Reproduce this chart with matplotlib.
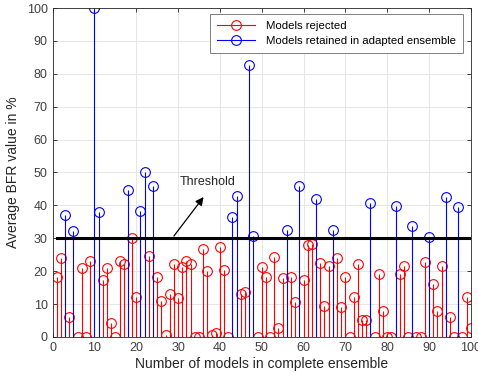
import matplotlib
matplotlib.use("Agg")
import matplotlib.pyplot as plt
from matplotlib.lines import Line2D
from matplotlib.legend_handler import HandlerLine2D
import numpy as np

plt.rcParams['font.family'] = ['Liberation Sans', 'DejaVu Sans']

# Average BFR value per model (models 1..100)
bfr_values = [
    18.3, 24.1, 37.1, 6.0, 32.3, 0.0, 21.1, 0.0, 23.1, 100.0,
    37.9, 17.3, 21.1, 4.3, 0.0, 23.1, 22.2, 44.6, 30.0, 12.1,
    38.4, 50.2, 24.7, 45.8, 18.1, 11.0, 0.6, 12.9, 22.1, 11.8,
    21.3, 23.1, 22.1, 0.0, 0.0, 26.7, 19.9, 0.7, 1.2, 27.4,
    20.4, 0.0, 36.5, 42.9, 13.1, 13.7, 82.7, 30.8, 0.0, 21.3,
    18.3, 0.0, 24.2, 2.6, 17.8, 32.4, 18.1, 10.7, 45.8, 17.2,
    28.0, 28.2, 41.9, 22.5, 9.4, 21.7, 32.6, 23.9, 9.1, 18.1,
    0.0, 12.0, 22.1, 5.2, 5.2, 40.8, 0.0, 19.1, 7.9, 0.0,
    0.0, 39.9, 19.1, 21.6, 0.0, 33.8, 0.0, 0.0, 22.7, 30.5,
    16.0, 7.9, 21.6, 42.6, 6.2, 0.0, 39.4, 0.0, 12.0, 2.7,
]
# models retained in adapted ensemble
retained_models = [3, 5, 10, 11, 18, 21, 22, 24, 43, 44, 47, 48, 56, 59,
                   63, 67, 76, 82, 86, 90, 94, 97]
threshold = 30
x_ticks = [0, 10, 20, 30, 40, 50, 60, 70, 80, 90, 100]
y_ticks = [0, 10, 20, 30, 40, 50, 60, 70, 80, 90, 100]

models = np.arange(1, len(bfr_values) + 1)
vals = np.array(bfr_values)
ret_mask = np.isin(models, retained_models)


class HandlerStem(HandlerLine2D):
    def get_xdata(self, legend, xdescent, ydescent, width, height, fontsize):
        xdata = np.array([-xdescent, -xdescent + width])
        xdata_marker = np.array([-xdescent + width - 0.1 * width])
        return xdata, xdata_marker


fig = plt.figure(figsize=(4.78, 3.82), dpi=100)
ax = fig.add_axes([0.110, 0.118, 0.875, 0.861])

ax.grid(True, color='#e6e6e6', linewidth=0.7, zorder=0)
ax.set_axisbelow(True)

ml, sl, bl = ax.stem(models[~ret_mask], vals[~ret_mask], linefmt='-', markerfmt='o',
                     basefmt=' ')
plt.setp(sl, color='red', linewidth=0.8)
plt.setp(ml, markerfacecolor='none', markeredgecolor='red', markersize=7, markeredgewidth=0.8)

ml2, sl2, bl2 = ax.stem(models[ret_mask], vals[ret_mask], linefmt='-', markerfmt='o',
                        basefmt=' ')
plt.setp(sl2, color='blue', linewidth=0.8)
plt.setp(ml2, markerfacecolor='none', markeredgecolor='blue', markersize=7, markeredgewidth=0.8)

ax.plot([1, 100], [threshold, threshold], color='black', linewidth=2.2, zorder=5)

ax.annotate('', xy=(36.5, 43.2), xytext=(28.6, threshold),
            arrowprops=dict(arrowstyle='-|>', color='black', lw=0.9, mutation_scale=12))
ax.text(30.3, 47.0, 'Threshold', fontsize=9, color='#262626', ha='left', va='center')

ax.set_xlim(0, 100)
ax.set_ylim(0, 100)
ax.set_xticks(x_ticks)
ax.set_yticks(y_ticks)
ax.tick_params(direction='in', top=True, right=True, labelsize=9, colors='#262626',
               length=3, width=0.6, labelcolor='#404040')
for s in ax.spines.values():
    s.set_color('#262626')
    s.set_linewidth(0.6)

ax.set_xlabel('Number of models in complete ensemble', fontsize=10, color='#262626', labelpad=2)
ax.set_ylabel('Average BFR value in %', fontsize=10, color='#262626', labelpad=5)

h_rej = Line2D([], [], color='red', linewidth=0.8, marker='o', markerfacecolor='none',
               markeredgecolor='red', markersize=7, markeredgewidth=0.8)
h_ret = Line2D([], [], color='blue', linewidth=0.8, marker='o', markerfacecolor='none',
               markeredgecolor='blue', markersize=7, markeredgewidth=0.8)
leg = ax.legend([h_rej, h_ret], ['Models rejected', 'Models retained in adapted ensemble'],
                handler_map={Line2D: HandlerStem(numpoints=1)},
                loc='upper right', bbox_to_anchor=(0.981, 0.982), borderaxespad=0,
                fontsize=8.2, frameon=True, fancybox=False, edgecolor='#808080',
                framealpha=1, handlelength=3.3, handletextpad=1.0,
                borderpad=0.6, labelspacing=0.45)
leg.get_frame().set_linewidth(0.7)

fig.savefig('out.png', dpi=100)
